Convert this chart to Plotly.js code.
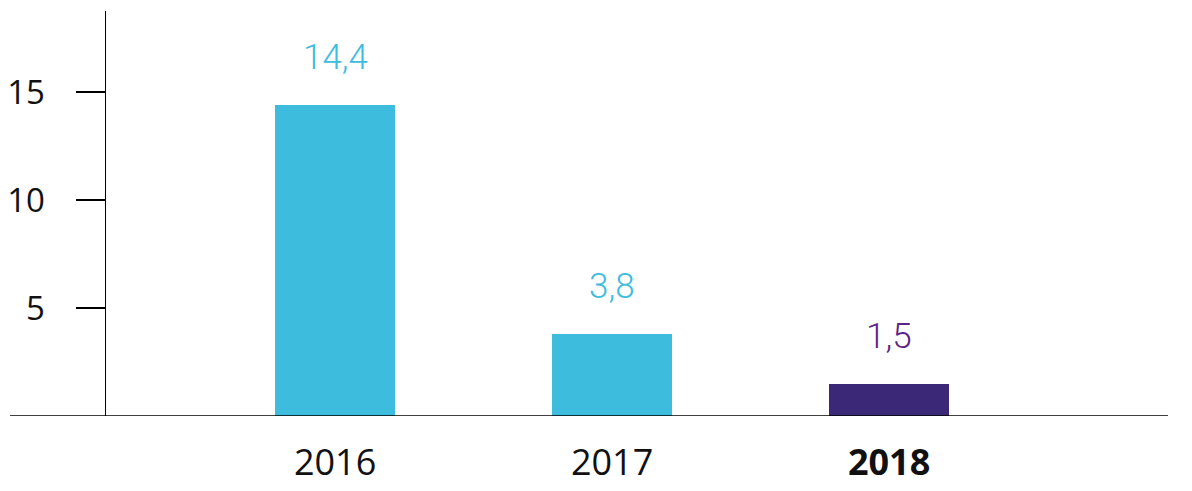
<!DOCTYPE html>
<html>
<head>
<meta charset="utf-8">
<script src="https://cdn.plot.ly/plotly-3.0.1.min.js"></script>
<style>html,body{margin:0;padding:0;background:#fff;}#chart{width:1192px;height:491px;}</style>
</head>
<body>
<div id="chart"></div>
<script>
const years = ['2016', '2017', '2018'];
const tickLabels = ['2016', '2017', '<b>2018</b>'];
const values = [14.4, 3.8, 1.5];
const valueLabels = ['14,4', '3,8', '1,5'];
const barColors = ['#3EBCDD', '#3EBCDD', '#3B2877'];
const labelColors = ['#3EBCDD', '#3EBCDD', '#5A2485'];
const yTicks = [5, 10, 15];

const trace = {
  type: 'bar',
  x: years,
  y: values,
  width: 0.433,
  marker: {color: barColors},
  hoverinfo: 'none'
};

const annotations = years.map((y, i) => ({
  x: i, y: values[i], xref: 'x', yref: 'y',
  text: valueLabels[i], showarrow: false,
  yanchor: 'bottom', yshift: 25,
  font: {family: 'Roboto, sans-serif', size: 35, weight: 300, color: labelColors[i]}
}));

const layout = {
  width: 1192, height: 491,
  margin: {l: 106, r: 24, t: 11, b: 75},
  paper_bgcolor: '#fff', plot_bgcolor: '#fff',
  showlegend: false,
  bargap: 0,
  xaxis: {
    type: 'category',
    range: [-0.827, 3.007],
    tickvals: years, ticktext: tickLabels,
    showline: false, showgrid: false, zeroline: false,
    ticks: '', ticklabelstandoff: 22,
    tickfont: {family: 'Open Sans, sans-serif', size: 36, color: '#111'}
  },
  yaxis: {
    range: [0, 18.75],
    tickvals: yTicks,
    showline: true, linecolor: '#000', linewidth: 1.5,
    showgrid: false, zeroline: false,
    ticks: 'outside', ticklen: 29, tickwidth: 1.5, tickcolor: '#000',
    ticklabelstandoff: 24,
    tickfont: {family: 'Open Sans, sans-serif', size: 33, color: '#111'}
  },
  shapes: [{
    type: 'line', xref: 'paper', yref: 'y',
    x0: -0.0904, x1: 1, y0: 0, y1: 0,
    line: {color: '#000', width: 1.5}
  }],
  annotations: annotations
};

Plotly.newPlot('chart', [trace], layout, {staticPlot: true, displayModeBar: false});
</script>
</body>
</html>
